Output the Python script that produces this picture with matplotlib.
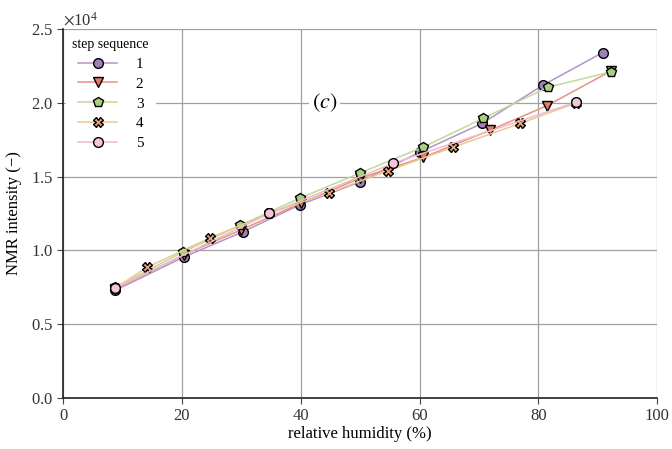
import matplotlib
matplotlib.use("Agg")
import matplotlib.pyplot as plt
from matplotlib.ticker import ScalarFormatter, MultipleLocator

plt.rcParams['font.family'] = ['Liberation Serif', 'DejaVu Serif']
plt.rcParams['mathtext.fontset'] = 'stix'

labels = ['1', '2', '3', '4', '5']
rh1 = [8.8, 20.3, 30.2, 39.9, 50.0, 60.0, 70.5, 80.8, 90.8]
v1 = [0.73, 0.955, 1.125, 1.31, 1.465, 1.665, 1.86, 2.12, 2.34]
rh2 = [8.8, 20.3, 30.0, 40.0, 50.0, 60.6, 71.9, 81.4, 92.2]
v2 = [0.74, 0.97, 1.14, 1.32, 1.49, 1.63, 1.815, 1.98, 2.215]
rh3 = [8.8, 20.2, 29.8, 39.9, 50.0, 60.6, 70.7, 81.6, 92.2]
v3 = [0.75, 0.99, 1.17, 1.355, 1.525, 1.70, 1.895, 2.105, 2.21]
rh4 = [8.8, 14.1, 24.7, 34.7, 44.7, 54.7, 65.7, 76.9, 86.4]
v4 = [0.745, 0.885, 1.085, 1.25, 1.39, 1.54, 1.70, 1.86, 2.00]
rh5 = [8.8, 34.7, 55.5, 86.4]
v5 = [0.745, 1.25, 1.59, 2.005]

series = [(rh1, v1), (rh2, v2), (rh3, v3), (rh4, v4), (rh5, v5)]
markers = ['o', 'v', 'p', 'X', 'o']
face = ['#9d82b8', '#e07b68', '#a9cf7f', '#e9a276', '#f2c6d6']
linec = ['#b493c9', '#e8927e', '#bedb98', '#e9c992', '#f1b9cb']
msize = [7, 7, 7, 6.5, 7]

fig = plt.figure(figsize=(6.72, 4.49), dpi=100)
ax = fig.add_axes([0.094, 0.1136, 0.884, 0.8218])

for i, (x, y) in enumerate(series):
    ax.plot(x, [val * 1e4 for val in y], marker=markers[i], color=linec[i],
            markerfacecolor=face[i], markeredgecolor='black', markeredgewidth=1.0,
            markersize=msize[i], linewidth=1.1, label=labels[i], zorder=3 + i)

ax.set_xlim(0, 100)
ax.set_ylim(0, 25000)
ax.xaxis.set_major_locator(MultipleLocator(20))
ax.yaxis.set_major_locator(MultipleLocator(5000))
fmt = ScalarFormatter(useMathText=True)
fmt.set_powerlimits((4, 4))
ax.yaxis.set_major_formatter(fmt)
ax.yaxis.get_offset_text().set_fontsize(12)

ax.grid(True, color='#a0a0a0', linewidth=0.9)
ax.set_axisbelow(True)
for s in ['top', 'right']:
    ax.spines[s].set_visible(False)
for s in ['left', 'bottom']:
    ax.spines[s].set_color('#222222')
    ax.spines[s].set_linewidth(1.2)
ax.tick_params(labelsize=12, length=4, color='#444444', colors='#333333')

ax.set_xlabel('relative humidity (%)', fontsize=12, labelpad=1)
ax.set_ylabel('NMR intensity (−)', fontsize=12, labelpad=6)

leg = ax.legend(title='step sequence', loc='upper left', frameon=True,
                fontsize=11, title_fontsize=10, handlelength=2.6,
                borderaxespad=0.2, labelspacing=0.4, handletextpad=1.2)
leg.get_frame().set_edgecolor('white')
leg.get_frame().set_facecolor('white')
leg.get_frame().set_alpha(1)
leg.set_zorder(20)

ax.text(44, 20000, '$(c)$', fontsize=16, ha='center', va='center',
        bbox=dict(facecolor='white', edgecolor='none', pad=2), zorder=2)

fig.savefig('out.png', dpi=100)
